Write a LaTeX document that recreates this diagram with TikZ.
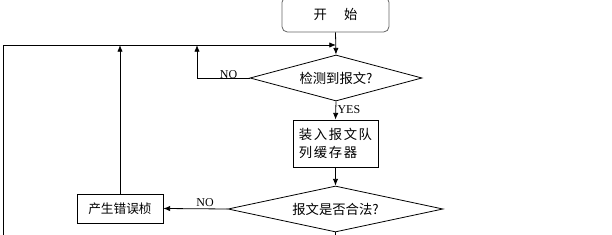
\documentclass[tikz,border=0pt]{standalone}
\usepackage{fontspec}
\setmainfont{Liberation Serif}
\newfontfamily\cjk{Noto Sans CJK SC}
\newfontfamily\cjkw[LetterSpace=12]{Noto Sans CJK SC}
\usetikzlibrary{shapes.geometric,arrows.meta}
\begin{document}
\begin{tikzpicture}[x=0.75pt,y=-0.75pt,
  line width=0.6pt,
  arr/.style={-{Latex[length=5pt,width=4pt]}},
  box/.style={draw,rectangle,inner sep=0pt,font=\cjk\fontsize{9.5}{13}\selectfont,align=left},
  dia/.style={draw,diamond,inner sep=0pt,font=\cjk\fontsize{10}{12}\selectfont},
  lab/.style={font=\fontsize{9}{10}\selectfont,inner sep=1pt}]
\useasboundingbox (0,0) rectangle (612,235);
\node[box,draw=black!60,rounded corners=4pt,minimum width=80.25pt,minimum height=26.25pt,font=\cjk\fontsize{10}{12}\selectfont] (start) at (335.5,14.5) {开\hspace{1.3em}始};
\node[dia,minimum width=129pt,minimum height=34.5pt,aspect=3.74] (d1) at (336,78) {检测到报文?};
\node[box,minimum width=63.75pt,minimum height=35.25pt,font=\cjkw\fontsize{10}{14}\selectfont] (b2) at (335.5,143.5) {装入报文队\\列缓存器};
\node[dia,minimum width=161.25pt,minimum height=34.5pt,aspect=4.67] (d2) at (335.5,209) {报文是否合法?};
\node[box,minimum width=64.5pt,minimum height=21.75pt] (err) at (120,208.5) {产生错误桢};
\coordinate (topR) at (336,45);
\coordinate (topL) at (3,45);
\coordinate (botL) at (3,235);
\coordinate (noTurn) at (197,78);
\coordinate (noTop) at (197,45);
\coordinate (errTop) at (120,45);
\coordinate (d2End) at (335.5,235);
\draw[arr] (start.south) -- (d1.north);
\draw[arr] (d1.south) -- node[lab,right,pos=0.45]{YES} (b2.north);
\draw[arr] (b2.south) -- (d2.north);
\draw[arr] (d2.west) -- node[lab,above,pos=0.35]{NO} (err.east);
\draw[arr] (d1.west) -- node[lab,above,pos=0.4,yshift=-2pt]{NO} (noTurn) -- (noTop);
\draw[arr] (err.north) -- (errTop);
\draw[arr] (botL) -- (topL) -- (topR);
\draw (d2.south) -- (d2End);
\end{tikzpicture}
\end{document}
